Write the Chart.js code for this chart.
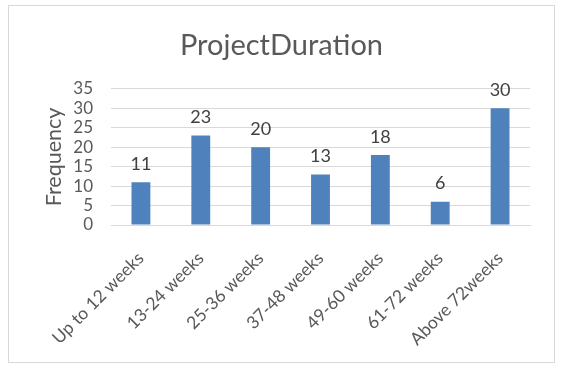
<!DOCTYPE html>
<html>
<head>
<meta charset="utf-8">
<script src="https://cdn.jsdelivr.net/npm/chart.js@4"></script>
<style>
  body { margin: 0; background: #fff; }
  #frame {
    position: absolute; left: 8px; top: 5px;
    width: 545px; height: 356px;
    border: 1px solid #d9d9d9; background: #fff;
  }
  canvas { display: block; }
</style>
</head>
<body>
<div id="frame"><canvas id="duration" width="545" height="356"></canvas></div>
<script>
const categories = ['Up to 12 weeks', '13-24 weeks', '25-36 weeks', '37-48 weeks', '49-60 weeks', '61-72 weeks', 'Above 72weeks'];
const frequency = [11, 23, 20, 13, 18, 6, 30];
const yTicks = [0, 5, 10, 15, 20, 25, 30, 35];

const textColor = '#595959';
const fontFamily = 'Lato, "Liberation Sans", sans-serif';

// value labels above each bar
const barLabels = {
  id: 'barLabels',
  afterDatasetsDraw(chart) {
    const ctx = chart.ctx;
    const meta = chart.getDatasetMeta(0);
    ctx.save();
    ctx.fillStyle = '#404040';
    ctx.font = '18px ' + fontFamily;
    ctx.textAlign = 'center';
    ctx.textBaseline = 'bottom';
    meta.data.forEach((bar, i) => {
      ctx.fillText(frequency[i], bar.x, bar.y - 9);
    });
    ctx.restore();
  }
};

const ctx = document.getElementById('duration');
new Chart(ctx, {
  type: 'bar',
  data: {
    labels: categories,
    datasets: [{
      label: 'Frequency',
      data: frequency,
      backgroundColor: '#4F81BD',
      borderWidth: 0,
      barPercentage: 0.45,
      categoryPercentage: 0.7
    }]
  },
  options: {
    responsive: false,
    animation: false,
    layout: { padding: { left: 24, right: 24, top: 0, bottom: 0 } },
    plugins: {
      legend: { display: false },
      tooltip: { enabled: false },
      title: {
        display: true,
        text: 'ProjectDuration',
        color: textColor,
        font: { family: fontFamily, size: 29, weight: 'normal' },
        padding: { top: 22, bottom: 26 }
      }
    },
    scales: {
      x: {
        grid: { display: false },
        border: { color: '#d9d9d9' },
        ticks: {
          color: textColor,
          font: { family: fontFamily, size: 17.5 },
          minRotation: 45,
          maxRotation: 45,
          autoSkip: false,
          padding: 15
        },
        afterFit(scale) { scale.height = 137; }
      },
      y: {
        min: 0,
        max: 35,
        afterBuildTicks(scale) { scale.ticks = yTicks.map(v => ({ value: v })); },
        grid: { color: '#d9d9d9', drawTicks: false },
        border: { display: false },
        ticks: {
          color: textColor,
          font: { family: fontFamily, size: 17 },
          autoSkip: false,
          padding: 18
        },
        title: {
          display: true,
          text: 'Frequency',
          color: textColor,
          font: { family: fontFamily, size: 21.5 },
          padding: { top: 8, bottom: 0 }
        },
        afterFit(scale) { scale.width = 78; }
      }
    }
  },
  plugins: [barLabels]
});
</script>
</body>
</html>
